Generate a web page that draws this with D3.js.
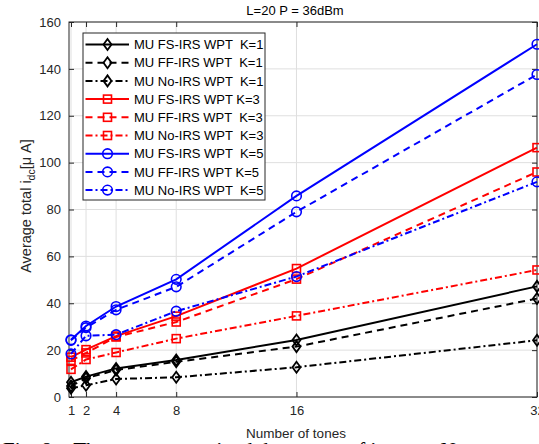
<!DOCTYPE html>
<html><head><meta charset="utf-8">
<script src="https://cdn.jsdelivr.net/npm/d3@7"></script>
<style>body{margin:0;background:#fff}svg{display:block}text{font-family:"Liberation Sans",Arial,sans-serif}</style>
</head><body><svg id="c" width="539" height="444"></svg>
<script>
const tones = [1, 2, 4, 8, 16, 32];
const xTicks = [1, 2, 4, 8, 16, 32];
const yTicks = [0, 20, 40, 60, 80, 100, 120, 140, 160];
const labels = ["MU FS-IRS WPT  K=1","MU FF-IRS WPT  K=1","MU No-IRS WPT  K=1",
                "MU FS-IRS WPT K=3","MU FF-IRS WPT  K=3","MU No-IRS WPT  K=3",
                "MU FS-IRS WPT  K=5","MU FF-IRS WPT K=5","MU No-IRS WPT  K=5"];
const k1FS = [6.3, 8.7, 12.2, 15.8, 24.3, 47.2];
const k1FF = [4.7, 8.0, 11.5, 15.0, 21.5, 42.0];
const k1No = [3.7, 5.0, 7.7, 8.4, 12.7, 24.2];
const k3FS = [17.0, 20.2, 26.0, 34.5, 54.8, 106.4];
const k3FF = [15.6, 18.8, 25.6, 32.0, 50.3, 96.0];
const k3No = [11.8, 16.0, 19.0, 24.9, 34.6, 54.2];
const k5FS = [24.4, 30.3, 38.6, 50.2, 85.8, 150.5];
const k5FF = [24.2, 29.6, 37.2, 47.0, 79.0, 137.6];
const k5No = [18.4, 26.1, 26.6, 36.6, 51.4, 91.8];

const series = [k1FS,k1FF,k1No,k3FS,k3FF,k3No,k5FS,k5FF,k5No];
const colors = ["#000","#000","#000","#ff0000","#ff0000","#ff0000","#0000ff","#0000ff","#0000ff"];
const dashes = [null,"7,5","7,3,2,3",null,"7,5","7,3,2,3",null,"7,5","7,3,2,3"];
const markers = ["d","d","d","s","s","s","o","o","o"];

const svg = d3.select("#c");
const L=69, R=537, T=22, B=397;
const x = d3.scaleLinear().domain([1,32]).range([71,537]);
x.domain([x.invert(L), 32]).range([L,R]);
const y = d3.scaleLinear().domain([0,160]).range([B,T]);

// grid
const g = svg.append("g");
g.selectAll(".gx").data(xTicks).join("line").attr("x1",d=>x(d)).attr("x2",d=>x(d)).attr("y1",T).attr("y2",B).attr("stroke","#dfdfdf").attr("stroke-width",1);
g.selectAll(".gy").data(yTicks).join("line").attr("x1",L).attr("x2",R).attr("y1",d=>y(d)).attr("y2",d=>y(d)).attr("stroke","#dfdfdf").attr("stroke-width",1);

// axes via d3
const axc = "#262626";
const ax = svg.append("g").attr("transform",`translate(0,${B})`).call(d3.axisBottom(x).tickValues(xTicks).tickSizeInner(-5).tickSizeOuter(0).tickPadding(9));
const axT = svg.append("g").attr("transform",`translate(0,${T})`).call(d3.axisTop(x).tickValues(xTicks).tickSizeInner(-5).tickSizeOuter(0).tickFormat(""));
const ay = svg.append("g").attr("transform",`translate(${L},0)`).call(d3.axisLeft(y).tickValues(yTicks).tickSizeInner(-5).tickSizeOuter(0).tickPadding(8));
const ayR = svg.append("g").attr("transform",`translate(${R},0)`).call(d3.axisRight(y).tickValues(yTicks).tickSizeInner(-5).tickSizeOuter(0).tickFormat(""));
[ax,axT,ay,ayR].forEach(a=>{a.select(".domain").remove();a.selectAll("line").attr("stroke",axc);a.selectAll("text").attr("fill",axc).style("font-size","13px").style("font-family","Liberation Sans, Arial, sans-serif");});
svg.append("rect").attr("x",L).attr("y",T).attr("width",R-L).attr("height",B-T).attr("fill","none").attr("stroke",axc).attr("stroke-width",1);

function drawMarker(sel, m, cx, cy, col){
  if(m==="d") sel.append("path").attr("d",`M${cx},${cy-5.5}L${cx+4},${cy}L${cx},${cy+5.5}L${cx-4},${cy}Z`).attr("fill","none").attr("stroke",col).attr("stroke-width",1.8);
  else if(m==="s") sel.append("rect").attr("x",cx-4).attr("y",cy-4).attr("width",8).attr("height",8).attr("fill","none").attr("stroke",col).attr("stroke-width",1.6);
  else sel.append("circle").attr("cx",cx).attr("cy",cy).attr("r",4.8).attr("fill","none").attr("stroke",col).attr("stroke-width",1.6);
}

const plot = svg.append("g");
const line = d3.line().x((d,i)=>x(tones[i])).y(d=>y(d));
series.forEach((s,k)=>{
  const p = plot.append("path").datum(s).attr("d",line).attr("fill","none").attr("stroke",colors[k]).attr("stroke-width",2);
  if(dashes[k]) p.attr("stroke-dasharray",dashes[k]);
  s.forEach((v,i)=>drawMarker(plot, markers[k], x(tones[i]), y(v), colors[k]));
});

// legend
const lg = svg.append("g");
const lx=83, ly=33, lw=182, lh=167, rowH=18.2;
lg.append("rect").attr("x",lx).attr("y",ly).attr("width",lw).attr("height",lh).attr("fill","#fff").attr("stroke",axc).attr("stroke-width",1);
labels.forEach((t,k)=>{
  const cy = ly+11.5+k*rowH;
  const p = lg.append("line").attr("x1",lx+2.5).attr("x2",lx+46).attr("y1",cy).attr("y2",cy).attr("stroke",colors[k]).attr("stroke-width",2);
  if(dashes[k]) p.attr("stroke-dasharray",dashes[k]);
  drawMarker(lg, markers[k], lx+24.5, cy, colors[k]);
  lg.append("text").attr("x",lx+51).attr("y",cy+4.6).attr("fill","#000").style("font-size","13px").style("white-space","pre").text(t);
});

// title & labels
svg.append("text").attr("x",295).attr("y",15).attr("text-anchor","middle").style("font-size","13px").attr("fill","#000").text("L=20 P = 36dBm");
svg.append("text").attr("x",296).attr("y",438).attr("text-anchor","middle").style("font-size","13.5px").attr("fill","#262626").text("Number of tones");
const yl = svg.append("text").attr("transform","translate(31,206) rotate(-90)").attr("text-anchor","middle").style("font-size","14.5px").attr("fill","#262626");
yl.append("tspan").text("Average total i");
yl.append("tspan").attr("dy",4).style("font-size","10.5px").text("dc");
yl.append("tspan").attr("dy",-4).text("[\u03bc A]");

// clipped caption beneath the figure
svg.append("text").attr("x",3).attr("y",457).style("font-family","Liberation Serif, Times New Roman, serif").style("font-size","21px").style("white-space","pre").attr("fill","#000")
  .text("Fig. 8:   The average received dc current of i versus N");
</script></body></html>
